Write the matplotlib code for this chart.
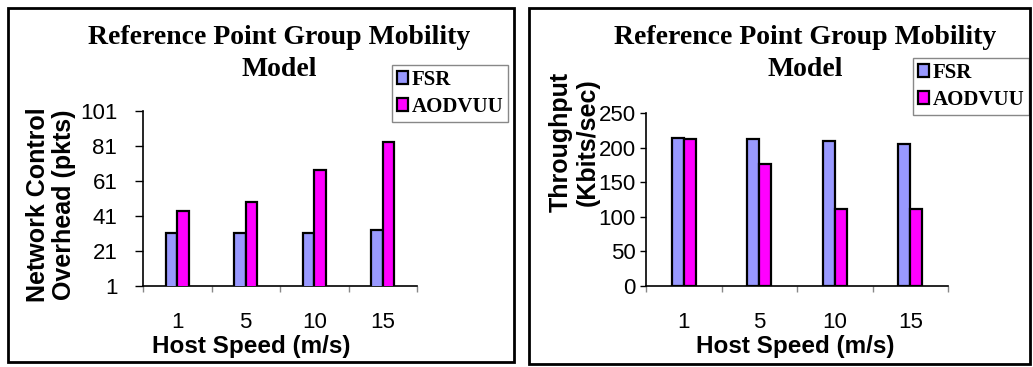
import matplotlib
matplotlib.use("Agg")
import matplotlib.pyplot as plt
from matplotlib.patches import Rectangle

# host speeds (m/s)
speeds = ["1", "5", "10", "15"]
protocols = ["FSR", "AODVUU"]
colors = ["#9999FF", "#FF00FF"]

# network control overhead (pkts)
overhead_fsr = [31, 31, 31, 33]
overhead_aodvuu = [44, 49, 67, 83]
overhead_ticks = [1, 21, 41, 61, 81, 101]

# throughput (Kbits/sec)
throughput_fsr = [214, 212, 210, 205]
throughput_aodvuu = [212, 176, 111, 111]
throughput_ticks = [0, 50, 100, 150, 200, 250]

W, H = 1033, 367
fig = plt.figure(figsize=(W / 100, H / 100), dpi=100)

serif = "Liberation Serif"
sans = "Liberation Sans"


def fx(px):
    return px / W


def fy(py):
    return 1 - py / H


def draw_panel(rect, fsr, aodv, ticks, bar_w, label_pad, tick_len):
    ax = fig.add_axes(rect)
    x = range(len(speeds))
    ax.bar([i - bar_w / 2 for i in x], fsr, bar_w, color=colors[0],
           edgecolor="black", linewidth=1.6, label=protocols[0], zorder=3)
    ax.bar([i + bar_w / 2 for i in x], aodv, bar_w, color=colors[1],
           edgecolor="black", linewidth=1.6, label=protocols[1], zorder=3)
    ax.set_xlim(-0.5, len(speeds) - 0.5)
    ax.set_ylim(ticks[0], ticks[-1])
    ax.set_yticks(ticks)
    ax.set_yticklabels([str(t) for t in ticks], fontfamily=sans, fontsize=16)
    # category boundaries as major ticks, names on minor ticks
    ax.set_xticks([i - 0.5 for i in range(len(speeds) + 1)])
    ax.set_xticklabels([])
    ax.set_xticks(list(x), minor=True)
    ax.set_xticklabels(speeds, minor=True, fontfamily=sans, fontsize=16)
    ax.tick_params(axis="x", which="major", length=4, color="#888888", width=1)
    ax.tick_params(axis="x", which="minor", length=0, pad=19)
    ax.tick_params(axis="y", length=tick_len, width=1, pad=label_pad)
    for s in ["top", "right"]:
        ax.spines[s].set_visible(False)
    for s in ["left", "bottom"]:
        ax.spines[s].set_linewidth(1.2)
    return ax


# left panel: control overhead
ax1 = draw_panel([fx(143), fy(286), fx(274), 175 / H],
                 overhead_fsr, overhead_aodvuu, overhead_ticks, 0.167, 12.5, 6)
# right panel: throughput
ax2 = draw_panel([fx(646), fy(286), fx(302), 173 / H],
                 throughput_fsr, throughput_aodvuu, throughput_ticks, 0.16, 3, 4.5)

for ax, cx, xl, box in [
    (ax1, 279, 251, (391, 66, 509, 121)),
    (ax2, 805, 795, (913, 59, 1029, 114)),
]:
    fig.text(fx(cx), fy(38), "Reference Point Group Mobility", ha="center", va="center",
             fontfamily=serif, fontweight="bold", fontsize=20)
    fig.text(fx(cx), fy(69), "Model", ha="center", va="center",
             fontfamily=serif, fontweight="bold", fontsize=20)
    fig.text(fx(xl), fy(347), "Host Speed (m/s)", ha="center", va="center",
             fontfamily=sans, fontweight="bold", fontsize=17.5)
    leg = ax.legend(loc="center", bbox_to_anchor=(fx((box[0] + box[2]) / 2), fy((box[1] + box[3]) / 2)),
                    bbox_transform=fig.transFigure, frameon=True, fancybox=False,
                    edgecolor="#888888", framealpha=1, borderpad=0.25,
                    handlelength=0.55, handleheight=0.55, handletextpad=0.15,
                    labelspacing=0.35, borderaxespad=0,
                    prop={"family": serif, "weight": "bold", "size": 15})
    leg.get_frame().set_linewidth(1)

fig.text(fx(51), fy(205), "Network Control\nOverhead (pkts)", rotation=90,
         ha="center", va="center", multialignment="center",
         fontfamily=sans, fontweight="bold", fontsize=18, linespacing=1.15)
fig.text(fx(574), fy(142), "Throughput\n(Kbits/sec)", rotation=90,
         ha="center", va="center", multialignment="center",
         fontfamily=sans, fontweight="bold", fontsize=18, linespacing=1.15)

# outer frames of the two panels
for x0, y0, x1, y1 in [(8, 8, 514, 362), (529, 8, 1030, 364)]:
    fig.patches.append(Rectangle((fx(x0), fy(y1)), fx(x1 - x0), (y1 - y0) / H,
                                 transform=fig.transFigure, fill=False,
                                 edgecolor="black", linewidth=2))

fig.savefig("out.png", dpi=100)
